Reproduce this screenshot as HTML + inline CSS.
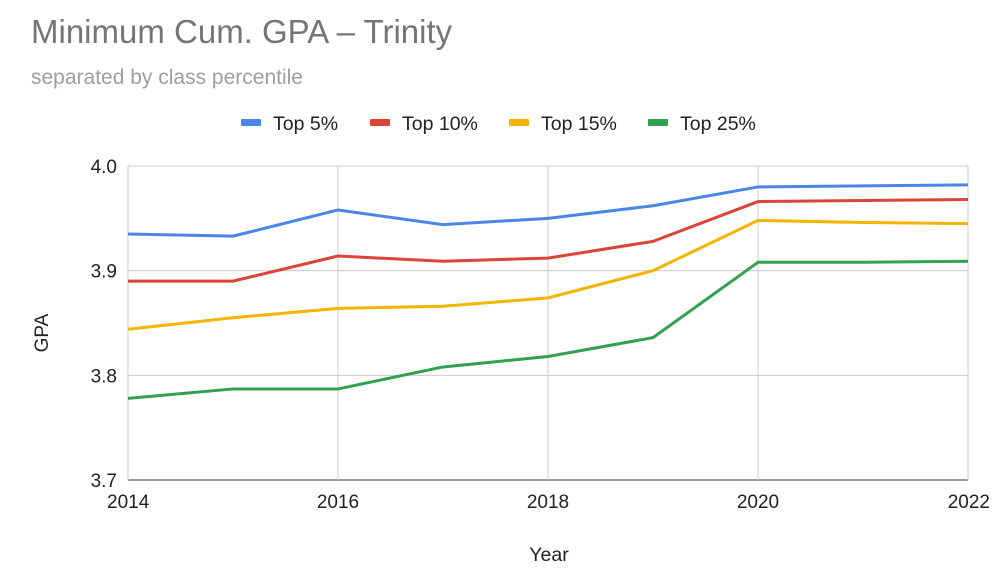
<!DOCTYPE html>
<html><head><meta charset="utf-8"><style>
body{margin:0;background:#fff;font-family:"Liberation Sans",Arial,sans-serif}
</style></head><body>
<svg width="1000" height="578" xmlns="http://www.w3.org/2000/svg" font-family="Liberation Sans, Arial, sans-serif">
<rect width="1000" height="578" fill="#fff"/>
<text x="31" y="43" font-size="33" fill="#757575">Minimum Cum. GPA – Trinity</text>
<text x="31" y="84" font-size="21" fill="#9e9e9e">separated by class percentile</text>
<g id="legend"></g>
<g id="grid"></g>
<g id="lines"></g>
<g id="labels"></g>
<text x="48" y="333" font-size="19" fill="#222" transform="rotate(-90 48 333)" text-anchor="middle">GPA</text>
<text x="549" y="561" font-size="19.5" fill="#222" text-anchor="middle">Year</text>
</svg>
<script>
const years=[2014,2015,2016,2017,2018,2019,2020,2021,2022];
const top5=[3.935,3.933,3.958,3.944,3.950,3.962,3.980,3.981,3.982];
const top10=[3.890,3.890,3.914,3.909,3.912,3.928,3.966,3.967,3.968];
const top15=[3.844,3.855,3.864,3.866,3.874,3.900,3.948,3.946,3.945];
const top25=[3.778,3.787,3.787,3.808,3.818,3.836,3.908,3.908,3.909];
const seriesNames=["Top 5%","Top 10%","Top 15%","Top 25%"];
const xTicks=[2014,2016,2018,2020,2022];
const yTicks=[3.7,3.8,3.9,4.0];
const NS="http://www.w3.org/2000/svg";
const L=128,R=968,T=166,B=480;
const x=v=>L+(v-2014)/(2022-2014)*(R-L);
const y=v=>B-(v-3.7)/(0.3)*(B-T);
function mk(tag,attrs,parent){const e=document.createElementNS(NS,tag);for(const k in attrs)e.setAttribute(k,attrs[k]);document.getElementById(parent).appendChild(e);return e;}
yTicks.forEach(t=>{
  const g=mk('line',{x1:L,x2:R,y1:y(t),y2:y(t),stroke:t===3.7?'#333':'#ccc','stroke-width':1},'grid');
  
  
  const tx=mk('text',{x:L-11,y:y(t)+7,'font-size':19,'text-anchor':'end',fill:'#222'},'labels');
  tx.textContent=t.toFixed(1);
  
  
});
xTicks.forEach(t=>{
  const g=mk('line',{x1:x(t),x2:x(t),y1:T,y2:B,stroke:'#ccc','stroke-width':1},'grid');
  
  
  const tx=mk('text',{x:x(t),y:B+28,'font-size':19,'text-anchor':t===2022?'end':(t===2014?'start':'middle'),fill:'#222'},'labels');
  if(t===2014)tx.setAttribute('x',x(t)-21);
  if(t===2022)tx.setAttribute('x',x(t)+22);
  tx.textContent=t;
  
  
});
const data=[top5,top10,top15,top25];
const colors=["#4a86e8","#db4437","#f4b400","#30a14e"];
data.forEach((s,i)=>{
  const p=mk('polyline',{points:s.map((v,j)=>x(years[j])+','+y(v)).join(' '),fill:'none',stroke:colors[i],'stroke-width':3,'stroke-linejoin':'round'},'lines');
  
  
});
const lx=[241,370,509,648];
seriesNames.forEach((n,i)=>{
  const r=mk('rect',{x:lx[i],y:119,width:20,height:7,rx:1,fill:colors[i]},'legend');
  
  
  const t=mk('text',{x:lx[i]+32,y:130,'font-size':19.5,fill:'#222'},'legend');
  t.textContent=n;
  
  
});
</script>
</body></html>
